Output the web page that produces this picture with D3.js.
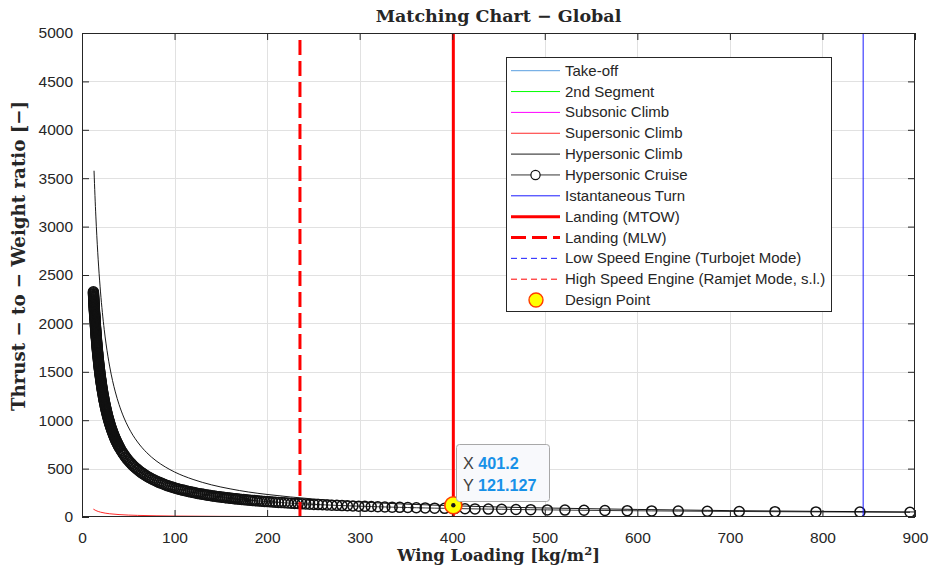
<!DOCTYPE html>
<html>
<head>
<meta charset="utf-8">
<script src="https://cdn.jsdelivr.net/npm/d3@7"></script>
<style>
  html, body { margin: 0; padding: 0; background: #fff; }
  svg { display: block; }
</style>
</head>
<body>
<svg id="chart" width="936" height="575"></svg>
<script>
// ---------------- data ----------------
const xTicks = [0, 100, 200, 300, 400, 500, 600, 700, 800, 900];
const yTicks = [0, 500, 1000, 1500, 2000, 2500, 3000, 3500, 4000, 4500, 5000];

const seriesNames = [
  "Take-off", "2nd Segment", "Subsonic Climb", "Supersonic Climb",
  "Hypersonic Climb", "Hypersonic Cruise", "Istantaneous Turn",
  "Landing (MTOW)", "Landing (MLW)", "Low Speed Engine (Turbojet Mode)",
  "High Speed Engine (Ramjet Mode, s.l.)", "Design Point"
];

// Wing loading [kg/m^2] and thrust-to-weight values for each constraint
const takeoffWS = [12.3, 900];
const takeoffTW = [0.05, 1.2];

const secondSegWS = [12.3, 900];
const secondSegTW = [1.8, 1.8];

const subsonicWS = [12.3, 50, 100, 300, 900];
const subsonicTW = [3.0, 1.5, 1.2, 1.0, 0.9];

const supersonicWS = [12.3, 15, 20, 25, 30, 40, 50, 60, 80, 100, 150, 200, 300, 400, 600, 900];
const supersonicTW = [81.3, 66.7, 50, 40, 33.3, 25, 20, 16.7, 12.5, 10, 6.7, 5, 3.3, 2.5, 1.7, 1.1];

const hyperClimbWS = [13, 14, 15, 16, 17, 18, 19, 20, 22, 24, 26, 28, 30, 33, 36, 40, 45, 50, 55, 60,
  70, 80, 90, 100, 120, 140, 160, 180, 200, 250, 300, 350, 401.2, 450, 500, 600, 700, 800, 900];
const hyperClimbTW = [3577, 3321, 3100, 2906, 2735, 2583, 2447, 2325, 2114, 1938, 1788, 1661, 1550, 1409,
  1292, 1163, 1033, 930, 845, 775, 664, 581, 517, 465, 388, 332, 291, 258, 233, 186, 155, 133, 116, 103,
  93, 78, 66, 58, 52];

const cruiseWS = [
  12.3, 12.35, 12.4, 12.45, 12.5, 12.55, 12.6, 12.65, 12.7, 12.75,
  12.8, 12.85, 12.9, 12.95, 13, 13.05, 13.1, 13.15, 13.2, 13.25,
  13.3, 13.35, 13.4, 13.45, 13.5, 13.55, 13.6, 13.65, 13.7, 13.75,
  13.8, 13.85, 13.9, 13.95, 14, 14.075, 14.15, 14.225, 14.3, 14.375,
  14.45, 14.525, 14.6, 14.675, 14.75, 14.825, 14.9, 14.975, 15.05, 15.125,
  15.2, 15.275, 15.35, 15.425, 15.5, 15.6, 15.7, 15.8, 15.9, 16,
  16.1, 16.2, 16.3, 16.4, 16.5, 16.6, 16.7, 16.8, 16.9, 17,
  17.1, 17.225, 17.35, 17.475, 17.6, 17.725, 17.85, 17.975, 18.1, 18.225,
  18.35, 18.475, 18.6, 18.725, 18.85, 18.975, 19.1, 19.25, 19.4, 19.55,
  19.7, 19.85, 20, 20.15, 20.3, 20.45, 20.6, 20.75, 20.9, 21.075,
  21.25, 21.425, 21.6, 21.775, 21.95, 22.125, 22.3, 22.5, 22.7, 22.9,
  23.1, 23.3, 23.5, 23.7, 23.9, 24.1, 24.3, 24.55, 24.8, 25.05,
  25.3, 25.55, 25.8, 26.05, 26.3, 26.55, 26.8, 27.1, 27.4, 27.7,
  28, 28.3, 28.6, 28.9, 29.2, 29.5, 29.8, 30.15, 30.5, 30.85,
  31.2, 31.55, 31.9, 32.25, 32.6, 33, 33.4, 33.8, 34.2, 34.6,
  35, 35.4, 35.8, 36.25, 36.7, 37.15, 37.6, 38.05, 38.5, 39,
  39.5, 40, 40.5, 41.5, 42.5, 43.6, 44.7, 45.8, 47, 48.2,
  49.4, 50.6, 52, 53.4, 54.8, 56.2, 57.7, 59.2, 60.7, 62.3,
  63.9, 65.5, 67.2, 68.9, 70.6, 72.4, 74.2, 76, 77.8, 79.6,
  81.5, 83.4, 85.3, 87.2, 89.1, 91, 93, 95, 97, 99,
  101, 103, 105, 107, 109, 111, 113, 115, 117, 119,
  121, 123, 125, 127, 129, 131, 133, 135, 137, 139,
  141, 143, 145, 147, 149, 151, 153, 155, 157, 159,
  161, 163, 165, 166.4, 168.4, 170.5, 172.6, 174.8, 177.0, 179.3,
  181.7, 184.1, 186.5, 189.1, 191.7, 194.4, 197.1, 200.0, 202.9, 205.9,
  209.0, 212.2, 215.5, 218.9, 222.4, 226.0, 229.8, 233.6, 237.6, 241.8,
  246.0, 250.5, 255.1, 259.8, 264.8, 269.9, 275.3, 280.9, 286.7, 292.7,
  299.0, 305.6, 312.5, 319.6, 327.2, 335.1, 343.3, 352.0, 361.2, 370.8,
  381.0, 391.8, 403.1, 413.8, 424.6, 439.0, 453.4, 468.9, 484.8, 502.7,
  521.8, 542.4, 565.0, 589.1, 615.5, 644.2, 675.6, 710.1, 748.7, 793.0,
  840.5, 894.6
];
const cruiseTW = [
  2326, 2317, 2307, 2298, 2289, 2280, 2271, 2262, 2253, 2245,
  2236, 2227, 2219, 2210, 2202, 2193, 2185, 2177, 2169, 2160,
  2152, 2144, 2136, 2129, 2121, 2113, 2105, 2098, 2090, 2082,
  2075, 2068, 2060, 2053, 2046, 2035, 2024, 2014, 2003, 1993,
  1982, 1972, 1962, 1952, 1942, 1933, 1923, 1913, 1904, 1895,
  1885, 1876, 1867, 1858, 1849, 1838, 1826, 1815, 1803, 1792,
  1781, 1770, 1759, 1749, 1738, 1728, 1718, 1707, 1697, 1688,
  1678, 1666, 1654, 1642, 1631, 1619, 1608, 1597, 1586, 1575,
  1565, 1554, 1544, 1534, 1524, 1514, 1504, 1492, 1481, 1470,
  1459, 1448, 1437, 1426, 1416, 1406, 1396, 1386, 1376, 1365,
  1353, 1343, 1332, 1321, 1311, 1301, 1291, 1279, 1268, 1257,
  1246, 1236, 1226, 1215, 1205, 1195, 1186, 1174, 1162, 1151,
  1140, 1129, 1118, 1107, 1097, 1087, 1077, 1065, 1053, 1042,
  1031, 1021, 1010, 1000, 990, 980, 970, 959, 948, 938,
  927, 917, 907, 898, 888, 878, 867, 857, 847, 838,
  828, 819, 810, 800, 791, 781, 772, 763, 755, 745,
  736, 727, 718, 701, 685, 668, 652, 637, 621, 606,
  592, 578, 563, 549, 535, 522, 509, 497, 485, 473,
  461, 451, 440, 429, 419, 409, 400, 391, 382, 374,
  365, 358, 350, 343, 336, 329, 322, 316, 310, 304,
  298, 293, 287, 282, 278, 273, 268, 264, 260, 256,
  252, 248, 244, 241, 237, 234, 231, 227, 224, 221,
  218, 216, 213, 210, 208, 205, 203, 200, 198, 196,
  193, 191, 189, 187.6, 185.6, 183.6, 181.5, 179.5, 177.4, 175.4,
  173.3, 171.3, 169.2, 167.2, 165.1, 163.1, 161.1, 159.0, 157.0, 154.9,
  152.9, 150.8, 148.8, 146.7, 144.7, 142.7, 140.6, 138.6, 136.5, 134.5,
  132.4, 130.4, 128.3, 126.3, 124.3, 122.2, 120.2, 118.1, 116.1, 114.0,
  112.0, 109.9, 107.9, 105.8, 103.8, 101.8, 99.7, 97.7, 95.6, 93.6,
  91.5, 89.5, 87.4, 85.6, 83.9, 81.7, 79.6, 77.6, 75.6, 73.5,
  71.4, 69.4, 67.3, 65.2, 63.1, 61.1, 59.0, 57.0, 54.9, 52.8,
  50.8, 48.7
];

const turnWS = [844, 844];
const turnTW = [0, 5000];

const landingMtowWS = [401.2, 401.2];
const landingMtowTW = [0, 5000];

const landingMlwWS = [235.5, 235.5];
const landingMlwTW = [0, 5000];

const lowSpeedWS = [12.3, 900];
const lowSpeedTW = [0.6, 0.6];

const highSpeedWS = [12.3, 900];
const highSpeedTW = [1.2, 1.2];

const designWS = 401.2;
const designTW = 121.127;

// ---------------- styles ----------------
const INK = "#262626";
const SANS = '"Liberation Sans", Arial, Helvetica, sans-serif';
const SERIF = '"DejaVu Serif", "Liberation Serif", serif';

const styles = {
  "Take-off":            { stroke: "#5b9fe0", width: 1 },
  "2nd Segment":         { stroke: "#00ff00", width: 1 },
  "Subsonic Climb":      { stroke: "#ff00ff", width: 1 },
  "Supersonic Climb":    { stroke: "#ff2a2a", width: 1 },
  "Hypersonic Climb":    { stroke: "#000000", width: 0.9 },
  "Hypersonic Cruise":   { stroke: "#000000", width: 0.8, marker: true },
  "Istantaneous Turn":   { stroke: "#1a1aff", width: 1 },
  "Landing (MTOW)":      { stroke: "#ff0000", width: 3 },
  "Landing (MLW)":       { stroke: "#ff0000", width: 3, dash: "15,6" },
  "Low Speed Engine (Turbojet Mode)":      { stroke: "#1a1aff", width: 1, dash: "6,4" },
  "High Speed Engine (Ramjet Mode, s.l.)": { stroke: "#ff0000", width: 1, dash: "6,4" },
  "Design Point":        { fill: "#ffff00", stroke: "#ff3c00" }
};

// ---------------- layout ----------------
const svg = d3.select("#chart");
const x = d3.scaleLinear().domain([0, 900]).range([82, 915]);
const y = d3.scaleLinear().domain([0, 5000]).range([517, 33]);
const [x0, x1] = x.range();
const [y0, y1] = y.range();

svg.append("rect").attr("width", 936).attr("height", 575).attr("fill", "#fff");

svg.append("defs").append("clipPath").attr("id", "plotClip")
  .append("rect").attr("x", x0).attr("y", y1).attr("width", x1 - x0).attr("height", y0 - y1);

// grid
const grid = svg.append("g").attr("stroke", "#e1e1e1").attr("stroke-width", 1);
grid.selectAll(".gx").data(xTicks.slice(1, -1)).join("line")
  .attr("x1", d => Math.round(x(d)) + 0.5).attr("x2", d => Math.round(x(d)) + 0.5)
  .attr("y1", y1).attr("y2", y0);
grid.selectAll(".gy").data(yTicks.slice(1, -1)).join("line")
  .attr("y1", d => Math.round(y(d)) + 0.5).attr("y2", d => Math.round(y(d)) + 0.5)
  .attr("x1", x0).attr("x2", x1);

// series
const plot = svg.append("g").attr("clip-path", "url(#plotClip)");
const line = d3.line().x(d => x(d[0])).y(d => y(d[1]));
const smooth = d3.line().x(d => x(d[0])).y(d => y(d[1])).curve(d3.curveMonotoneX);
const zip = (a, b) => a.map((v, i) => [v, b[i]]);

function drawSeries(name, ws, tw, gen) {
  const s = styles[name];
  plot.append("path")
    .datum(zip(ws, tw))
    .attr("d", gen || line)
    .attr("fill", "none")
    .attr("stroke", s.stroke)
    .attr("stroke-width", s.width)
    .attr("stroke-dasharray", s.dash || null);
}

drawSeries("Take-off", takeoffWS, takeoffTW);
drawSeries("2nd Segment", secondSegWS, secondSegTW);
drawSeries("Subsonic Climb", subsonicWS, subsonicTW);
drawSeries("Supersonic Climb", supersonicWS, supersonicTW, smooth);
drawSeries("Hypersonic Climb", hyperClimbWS, hyperClimbTW, smooth);

// hypersonic cruise: line with open circle markers
const cruise = zip(cruiseWS, cruiseTW);
drawSeries("Hypersonic Cruise", cruiseWS, cruiseTW);
plot.append("g").selectAll("circle").data(cruise).join("circle")
  .attr("cx", d => x(d[0])).attr("cy", d => y(d[1])).attr("r", 5)
  .attr("fill", "none").attr("stroke", "#111").attr("stroke-width", 1.5);

drawSeries("Istantaneous Turn", turnWS, turnTW);
drawSeries("Landing (MTOW)", landingMtowWS, landingMtowTW);
drawSeries("Landing (MLW)", landingMlwWS, landingMlwTW);
drawSeries("Low Speed Engine (Turbojet Mode)", lowSpeedWS, lowSpeedTW);
drawSeries("High Speed Engine (Ramjet Mode, s.l.)", highSpeedWS, highSpeedTW);

// axes box and ticks (inward, on all four sides)
function styleAxis(g) {
  g.select(".domain").remove();
  g.selectAll(".tick line").attr("stroke", INK);
  g.selectAll(".tick text").attr("fill", INK).style("font-family", SANS).style("font-size", "15.5px");
}
svg.append("g").attr("transform", `translate(0,${y0})`)
  .call(d3.axisBottom(x).tickValues(xTicks).tickSize(-7).tickPadding(15).tickFormat(d3.format("d")))
  .call(styleAxis);
svg.append("g").attr("transform", `translate(0,${y1})`)
  .call(d3.axisTop(x).tickValues(xTicks).tickSize(-7).tickFormat(""))
  .call(styleAxis);
svg.append("g").attr("transform", `translate(${x0},0)`)
  .call(d3.axisLeft(y).tickValues(yTicks).tickSize(-7).tickPadding(9).tickFormat(d3.format("d")))
  .call(styleAxis);
svg.append("g").attr("transform", `translate(${x1},0)`)
  .call(d3.axisRight(y).tickValues(yTicks).tickSize(-7).tickFormat(""))
  .call(styleAxis);
svg.append("rect").attr("x", x0 + 0.5).attr("y", y1 + 0.5)
  .attr("width", x1 - x0 - 1).attr("height", y0 - y1 - 1)
  .attr("fill", "none").attr("stroke", INK).attr("stroke-width", 1);

// design point with its data tip
const dpx = x(designWS), dpy = y(designTW);
const ds = styles["Design Point"];
svg.append("circle").attr("cx", dpx).attr("cy", dpy).attr("r", 8.5)
  .attr("fill", ds.fill).attr("stroke", ds.stroke).attr("stroke-width", 1.6);
svg.append("circle").attr("cx", dpx).attr("cy", dpy).attr("r", 2.2).attr("fill", "#1a1a1a");

const tip = svg.append("g").attr("transform", `translate(${Math.round(dpx) + 3},${Math.round(dpy) - 61})`);
tip.append("rect").attr("x", 0.5).attr("y", 0.5).attr("width", 93).attr("height", 57).attr("rx", 3)
  .attr("fill", "#f8f9fc").attr("stroke", "#a8a8a8").attr("stroke-width", 1);
const tipRows = [["X", String(designWS)], ["Y", String(designTW)]];
tipRows.forEach((r, i) => {
  const t = tip.append("text").attr("x", 7).attr("y", 25 + i * 22)
    .style("font-family", SANS).style("font-size", "16.2px");
  t.append("tspan").attr("fill", "#404040").text(r[0] + " ");
  t.append("tspan").attr("fill", "#1791e8").attr("font-weight", "bold").text(r[1]);
});

// legend
const lg = svg.append("g");
lg.append("rect").attr("x", 506.5).attr("y", 57.5).attr("width", 325).attr("height", 254)
  .attr("fill", "#fff").attr("stroke", INK).attr("stroke-width", 1);
seriesNames.forEach((name, i) => {
  const cy = 70.7 + i * 20.85;
  const s = styles[name];
  if (name === "Design Point") {
    lg.append("circle").attr("cx", 536).attr("cy", cy).attr("r", 7)
      .attr("fill", s.fill).attr("stroke", s.stroke).attr("stroke-width", 1.4);
  } else {
    lg.append("line").attr("x1", 511).attr("x2", 560).attr("y1", cy).attr("y2", cy)
      .attr("stroke", s.stroke).attr("stroke-width", s.width)
      .attr("stroke-dasharray", s.dash || null);
    if (s.marker) {
      lg.append("circle").attr("cx", 535.5).attr("cy", cy).attr("r", 4.6)
        .attr("fill", "#fff").attr("stroke", "#111").attr("stroke-width", 1.2);
    }
  }
  lg.append("text").attr("x", 565).attr("y", cy + 5)
    .attr("fill", INK).style("font-family", SANS).style("font-size", "15px").text(name);
});

// title and axis labels
function fitWidth(sel, target) {
  const w = sel.node().getComputedTextLength();
  const fs = parseFloat(sel.style("font-size"));
  if (w > 0) sel.style("font-size", (fs * target / w).toFixed(2) + "px");
}
const title = svg.append("text").attr("x", (x0 + x1) / 2).attr("y", 22)
  .attr("text-anchor", "middle").attr("fill", INK)
  .style("font-family", SERIF).style("font-weight", "bold").style("font-size", "16px")
  .text("Matching Chart \u2212 Global");
fitWidth(title, 246);

const xl = svg.append("text").attr("x", (x0 + x1) / 2).attr("y", 561)
  .attr("text-anchor", "middle").attr("fill", INK)
  .style("font-family", SERIF).style("font-weight", "bold").style("font-size", "15px");
xl.append("tspan").text("Wing Loading [kg/m");
xl.append("tspan").attr("font-size", "70%").attr("dy", "-0.5em").text("2");
xl.append("tspan").attr("dy", "0.35em").text("]");
fitWidth(xl, 203);

const yl = svg.append("text")
  .attr("transform", `translate(25,256) rotate(-90)`)
  .attr("text-anchor", "middle").attr("fill", INK)
  .style("font-family", SERIF).style("font-weight", "bold")
  .style("font-size", xl.style("font-size"))
  .text("Thrust \u2212 to \u2212 Weight ratio [\u2212]");
fitWidth(yl, 310);
</script>
</body>
</html>
